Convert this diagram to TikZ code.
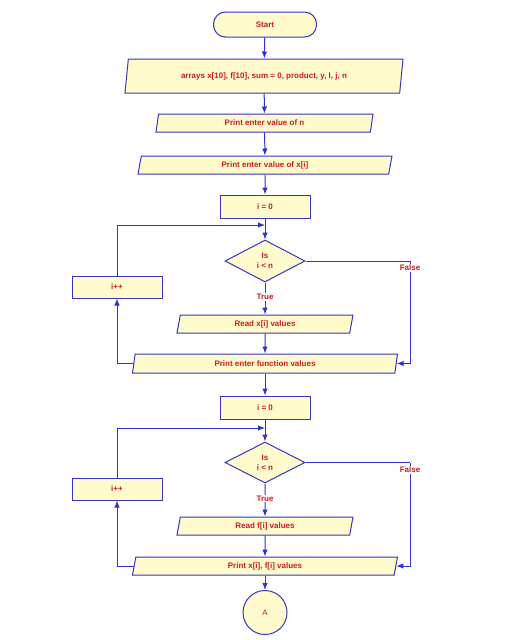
\documentclass[tikz,border=0pt]{standalone}
\usepackage{fontspec}
\setmainfont{Liberation Sans}
\usetikzlibrary{shapes.geometric,arrows.meta}
\definecolor{lineblue}{RGB}{50,50,205}
\definecolor{boxblue}{RGB}{55,55,190}
\definecolor{boxfill}{RGB}{255,251,204}
\definecolor{txtred}{RGB}{200,30,30}
\tikzset{
  base/.style={draw=boxblue, line width=1pt, fill=boxfill, text=txtred,
    font=\fontsize{8}{10}\selectfont\bfseries, inner sep=0pt},
  procbox/.style={base, rectangle, minimum width=90pt, minimum height=23pt},
  startbox/.style={base, rectangle, rounded corners=12pt, minimum width=103pt, minimum height=25pt},
  iobox/.style={base, trapezium, trapezium left angle=66, trapezium right angle=114,
    trapezium stretches body, minimum width=#1},
  decbox/.style={base, diamond, minimum width=80pt, minimum height=42pt, align=center},
  connbox/.style={base, circle, minimum size=44pt},
  wire/.style={draw=lineblue, line width=1pt},
  arr/.style={wire, -{Latex[length=7pt,width=5.5pt]}},
  lbl/.style={fill=white, text=txtred, inner sep=1pt, font=\fontsize{8}{10}\selectfont\bfseries}
}
\begin{document}
\begin{tikzpicture}[x=1pt,y=-1pt]
\useasboundingbox[fill=white] (0,0) rectangle (520,640);
\node[startbox] (start) at (265,24.5) {Start};
\node[iobox=278pt, minimum height=34pt] (decl) at (264,76) {arrays x[10], f[10], sum = 0, product, y, l, j, n};
\node[iobox=217pt, minimum height=18pt] (pn) at (264.5,123) {Print enter value of n};
\node[iobox=254pt, minimum height=18pt] (px) at (265,165) {Print enter value of x[i]};
\node[procbox] (ia) at (265,206.5) {i = 0};
\node[decbox] (da) at (265,261) {Is\\i < n};
\node[procbox, minimum height=22pt] (inca) at (117,287) {i++};
\node[iobox=176pt, minimum height=18pt] (rx) at (265,324) {Read x[i] values};
\node[iobox=265pt, minimum height=19pt] (pf) at (265,363.5) {Print enter function values};
\node[procbox] (ib) at (265,407.5) {i = 0};
\node[decbox, minimum height=41pt] (db) at (265,462.5) {Is\\i < n};
\node[procbox, minimum height=22pt] (incb) at (117,489) {i++};
\node[iobox=176pt, minimum height=18pt] (rf) at (265,526) {Read f[i] values};
\node[iobox=265pt, minimum height=18pt] (pxf) at (265,566) {Print x[i], f[i] values};
\node[connbox] (A) at (265,612.5) {\mdseries A};
\coordinate (ja) at (265,225);
\coordinate (jb) at (265,428);
\coordinate (fa) at (410,261);
\coordinate (fb) at (410,462.5);
% main flow
\draw[arr] (start) -- (decl);
\draw[arr] (decl) -- (pn);
\draw[arr] (pn) -- (px);
\draw[arr] (px) -- (ia);
\draw[arr] (ia) -- (da);
\draw[arr] (da) -- (rx) node[lbl, pos=0.45] (ta) {True};
\draw[arr] (rx) -- (pf);
\draw[arr] (pf.west) -| (inca.south);
\draw[arr] (inca.north) |- (ja);
\draw[wire] (da.east) -- (fa);
\draw[arr] (fa) |- (pf.east);
\node[lbl] (fla) at (410,268) {False};
\draw[arr] (pf) -- (ib);
\draw[arr] (ib) -- (db);
\draw[arr] (db) -- (rf) node[lbl, pos=0.45] (tb) {True};
\draw[arr] (rf) -- (pxf);
\draw[arr] (pxf.west) -| (incb.south);
\draw[arr] (incb.north) |- (jb);
\draw[wire] (db.east) -- (fb);
\draw[arr] (fb) |- (pxf.east);
\node[lbl] (flb) at (410,470) {False};
\draw[arr] (pxf) -- (A);
\end{tikzpicture}
\end{document}
